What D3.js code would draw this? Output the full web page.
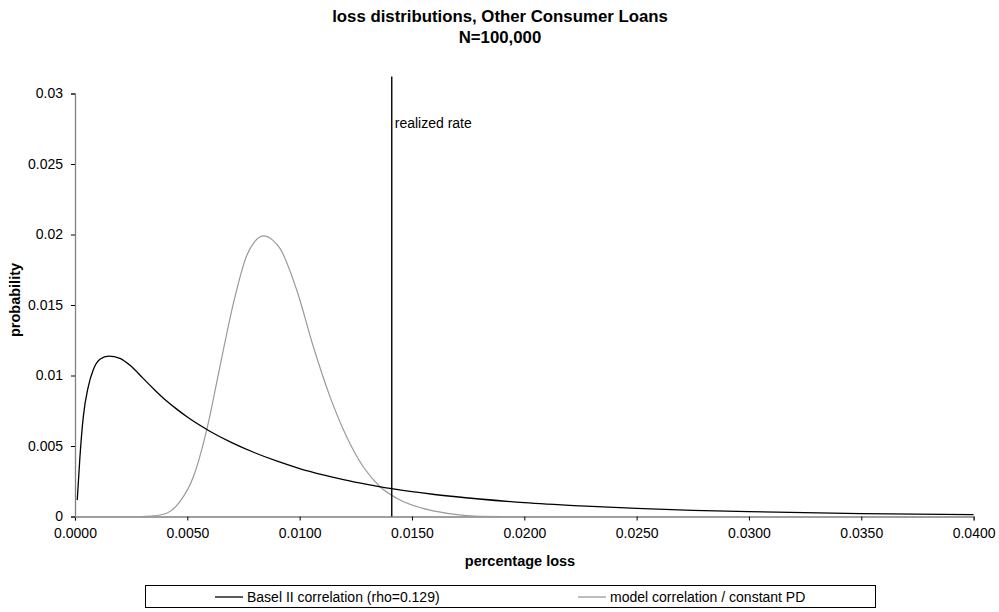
<!DOCTYPE html>
<html>
<head>
<meta charset="utf-8">
<script src="https://cdn.jsdelivr.net/npm/d3@7"></script>
<style>
  html, body { margin: 0; padding: 0; background: #fff; }
  svg text { font-family: "Liberation Sans", Arial, sans-serif; fill: #000; }
</style>
</head>
<body>
<svg id="chart" width="999" height="612"></svg>
<script>
// Loss distribution under the Basel II correlation assumption
const baselX = [0.0001, 0.00022, 0.00037, 0.00059, 0.00081, 0.00111, 0.0015, 0.0020, 0.0025,
  0.0030, 0.0035, 0.0040, 0.0045, 0.0050, 0.0060, 0.0070, 0.0080, 0.0090, 0.0100, 0.0110,
  0.0120, 0.0130, 0.0141, 0.0150, 0.0160, 0.0180, 0.0200, 0.0225, 0.0250, 0.0275, 0.0300,
  0.0350, 0.0400];
const baselY = [0.00117, 0.00424, 0.00708, 0.0092, 0.01039, 0.01115, 0.01138, 0.01122, 0.01065,
  0.00985, 0.00905, 0.0083, 0.00765, 0.00705, 0.00605, 0.00522, 0.00452, 0.00392, 0.0034, 0.00297,
  0.0026, 0.00228, 0.00197, 0.00176, 0.00156, 0.00124, 0.00098, 0.00075, 0.00057, 0.00044, 0.00034,
  0.00021, 0.00013];

// Loss distribution with model correlation and constant PD
const modelX = [0.0030, 0.00349, 0.00408, 0.00467, 0.00527, 0.00586, 0.00645, 0.00705, 0.00764,
  0.0080, 0.0084, 0.0088, 0.00913, 0.00987, 0.01061, 0.01135, 0.01209, 0.01283, 0.01358, 0.01432,
  0.0158, 0.01614, 0.0178, 0.0190];
const modelY = [0.0, 0.00004, 0.00023, 0.00105, 0.00282, 0.00613, 0.01062, 0.01512, 0.0185,
  0.0195, 0.0199, 0.0196, 0.0190, 0.01606, 0.01204, 0.0085, 0.00566, 0.00353, 0.00211, 0.00129,
  0.00045, 0.00034, 0.00003, 0.0];

// Realized loss rate marker
const realizedX = [0.0141, 0.0141];
const realizedY = [0.0, 0.0312];

const xTicks = [0, 0.005, 0.01, 0.015, 0.02, 0.025, 0.03, 0.035, 0.04];
const yTicks = [0, 0.005, 0.01, 0.015, 0.02, 0.025, 0.03];

const seriesNames = ["Basel II correlation (rho=0.129)", "model correlation / constant PD"];
const titleLines = ["loss distributions, Other Consumer Loans", "N=100,000"];

const svg = d3.select("#chart");
const FS = "14px";

const x = d3.scaleLinear().domain([0, 0.04]).range([75, 973.6]);
const y = d3.scaleLinear().domain([0, 0.03]).range([516.5, 93.5]);

const axisColor = "#808080";

// x axis
const xAxis = svg.append("g").attr("transform", `translate(0,${y(0)})`)
  .call(d3.axisBottom(x).tickValues(xTicks).tickFormat(d3.format(".4f")).tickSize(4).tickPadding(8));
xAxis.select(".domain").attr("stroke", axisColor).attr("stroke-width", 1.3);
xAxis.selectAll(".tick line").attr("stroke", "#000");
xAxis.selectAll("text").style("font-size", FS).attr("font-family", null);

// y axis
const yAxis = svg.append("g").attr("transform", `translate(${x(0)},0)`)
  .call(d3.axisLeft(y).tickValues(yTicks).tickFormat(d => d === 0 ? "0" : String(+d.toFixed(3))).tickSize(4).tickPadding(8));
yAxis.select(".domain").attr("stroke", axisColor).attr("stroke-width", 1.3);
yAxis.selectAll(".tick line").attr("stroke", "#000");
yAxis.selectAll("text").style("font-size", FS).attr("font-family", null);

const line = d3.line().x(d => x(d[0])).y(d => y(d[1])).curve(d3.curveMonotoneX);

svg.append("path")
  .datum(modelX.map((v, i) => [v, modelY[i]]))
  .attr("d", line).attr("fill", "none").attr("stroke", "#9a9a9a").attr("stroke-width", 1.2);

svg.append("path")
  .datum(baselX.map((v, i) => [v, baselY[i]]))
  .attr("d", line).attr("fill", "none").attr("stroke", "#000").attr("stroke-width", 1.3);

svg.append("path")
  .datum(realizedX.map((v, i) => [v, realizedY[i]]))
  .attr("d", d3.line().x(d => x(d[0])).y(d => y(d[1])))
  .attr("fill", "none").attr("stroke", "#000").attr("stroke-width", 1.4);

svg.append("text").attr("x", x(realizedX[0]) + 3).attr("y", 128)
  .style("font-size", FS).text("realized rate");

// titles
svg.append("text").attr("x", 500).attr("y", 22).attr("text-anchor", "middle")
  .style("font-size", "16.8px").style("font-weight", "bold").text(titleLines[0]);
svg.append("text").attr("x", 500).attr("y", 43).attr("text-anchor", "middle")
  .style("font-size", "16.8px").style("font-weight", "bold").text(titleLines[1]);

svg.append("text").attr("x", 520).attr("y", 566).attr("text-anchor", "middle")
  .style("font-size", "14.5px").style("font-weight", "bold").text("percentage loss");
svg.append("text").attr("transform", "translate(20,300) rotate(-90)").attr("text-anchor", "middle")
  .style("font-size", "14.5px").style("font-weight", "bold").text("probability");

// legend
const lg = svg.append("g");
lg.append("rect").attr("x", 145.5).attr("y", 585.5).attr("width", 730).attr("height", 22)
  .attr("fill", "#fff").attr("stroke", "#000").attr("stroke-width", 1);
const legendItems = [
  { name: seriesNames[0], color: "#000", x0: 215 },
  { name: seriesNames[1], color: "#9a9a9a", x0: 578 }
];
legendItems.forEach(it => {
  lg.append("line").attr("x1", it.x0).attr("x2", it.x0 + 28).attr("y1", 597).attr("y2", 597)
    .attr("stroke", it.color).attr("stroke-width", 1.3);
  lg.append("text").attr("x", it.x0 + 32).attr("y", 601.5).style("font-size", FS).text(it.name);
});
</script>
</body>
</html>
